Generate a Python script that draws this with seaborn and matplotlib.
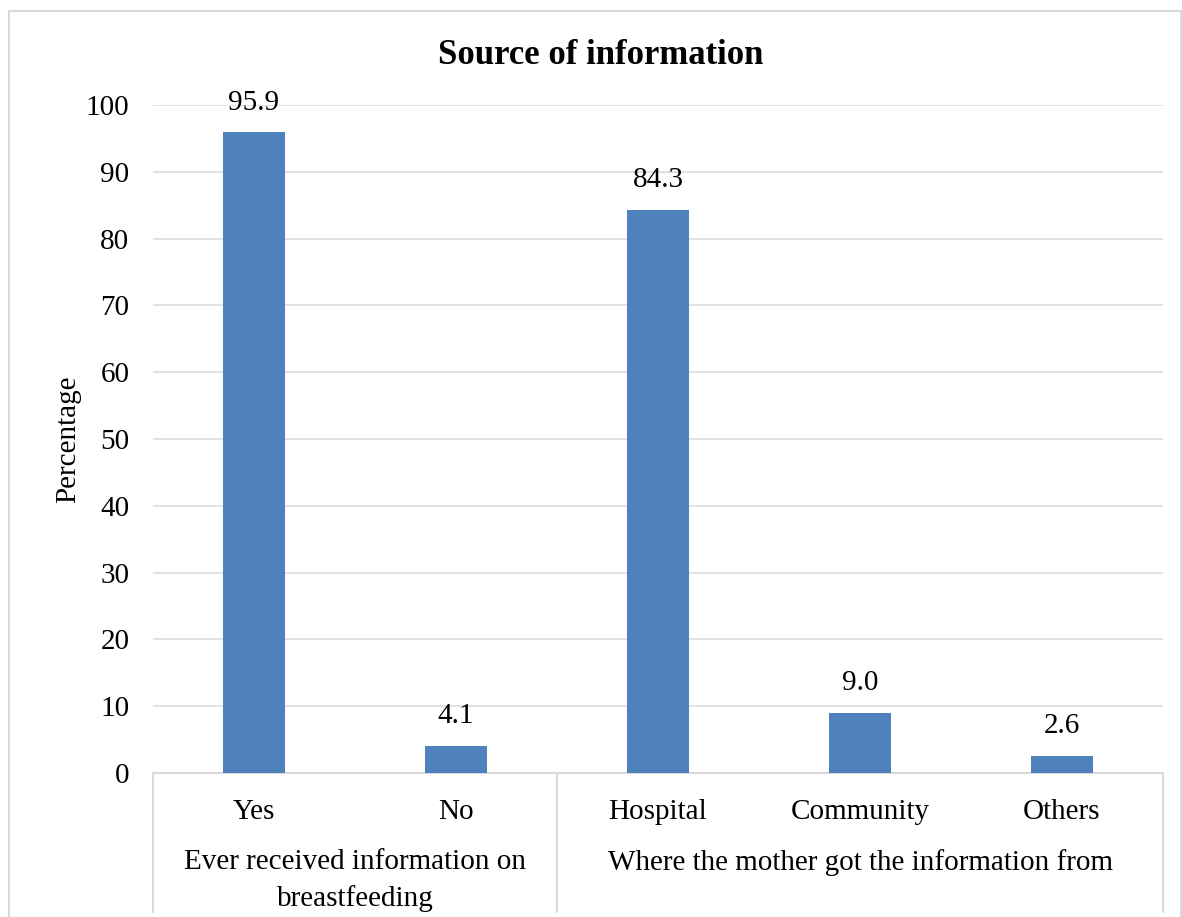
import pandas as pd
import numpy as np
import matplotlib.pyplot as plt
import matplotlib.transforms as mtransforms
from matplotlib.lines import Line2D
import seaborn as sns

# data
categories = ['Yes', 'No', 'Hospital', 'Community', 'Others']
values = [95.9, 4.1, 84.3, 9.0, 2.6]
groups = ['Ever received information on\nbreastfeeding',
          'Where the mother got the information from']
group_sizes = [2, 3]

sns.set_theme(style='white')
plt.rcParams['font.family'] = ['Liberation Serif', 'DejaVu Serif']
plt.rcParams['text.color'] = 'black'
plt.rcParams['xtick.color'] = 'black'
plt.rcParams['ytick.color'] = 'black'
plt.rcParams['axes.labelcolor'] = 'black'

FS = 21
W, H = 1182, 917
fig = plt.figure(figsize=(W / 100, H / 100), dpi=100)
ax = fig.add_axes([153 / W, 144 / H, (1163 - 153) / W, (773 - 105) / H])

df = pd.DataFrame({'cat': categories, 'val': values})
sns.barplot(data=df, x='cat', y='val', color='#4F81BD', saturation=1,
            width=0.31, linewidth=0, ax=ax, zorder=3)
ax.bar_label(ax.containers[0], fmt='%.1f', padding=12, fontsize=FS)

ax.set_ylim(0, 100)
ax.set_xlim(-0.5, len(categories) - 0.5)
ax.set_yticks(np.arange(0, 101, 10))
ax.yaxis.grid(True, color='#D9D9D9', linewidth=1.1, zorder=0)
ax.tick_params(axis='y', labelsize=FS, length=0, pad=17)
ax.tick_params(axis='x', labelsize=FS, length=0, pad=19)
ax.set_xlabel('')
ax.set_ylabel('Percentage', fontsize=FS, labelpad=3)
for s in ['top', 'right', 'left']:
    ax.spines[s].set_visible(False)
ax.spines['bottom'].set_color('#D9D9D9')
ax.spines['bottom'].set_linewidth(1.5)
fig.text(601 / W, 1 - 55 / H, 'Source of information', fontsize=25,
         fontweight='bold', ha='center', va='center')

# category group boxes under the axis
trans = mtransforms.blended_transform_factory(ax.transData, ax.transAxes)
bottom = -(912 - 773) / (773 - 105)
edges = np.concatenate([[-0.5], np.cumsum(group_sizes) - 0.5])
for e in edges:
    ax.add_line(Line2D([e, e], [0, bottom], transform=trans, color='#D9D9D9',
                       linewidth=1.5, clip_on=False))
for i, g in enumerate(groups):
    mid = (edges[i] + edges[i + 1]) / 2
    ax.text(mid, -(849 - 773) / (773 - 105), g, transform=trans, ha='center',
            va='top', fontsize=FS, linespacing=1.5)

# outer chart border
for xs, ys in [([9, 9], [0, 11]), ([9, 1181], [11, 11]), ([1181, 1181], [11, 0])]:
    fig.add_artist(Line2D([x / W for x in xs], [1 - y / H if y else 0 for y in ys],
                          transform=fig.transFigure, color='#D9D9D9', linewidth=1.5))

fig.savefig('out.png', dpi=100)
